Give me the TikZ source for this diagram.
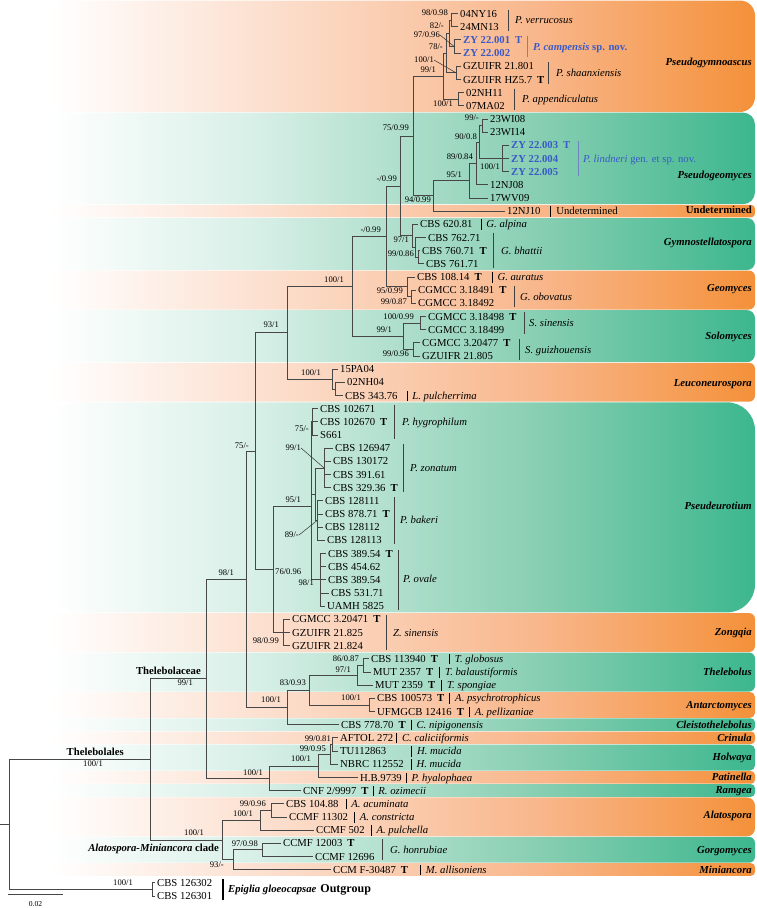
\documentclass[tikz,border=0pt]{standalone}
\usepackage{fontspec}
\setmainfont{Liberation Serif}

\definecolor{orgL}{RGB}{252,224,208}
\definecolor{orgM}{RGB}{248,182,138}
\definecolor{orgD}{RGB}{244,145,58}
\definecolor{grnL}{RGB}{214,239,230}
\definecolor{grnM}{RGB}{134,206,177}
\definecolor{grnD}{RGB}{60,183,142}
\definecolor{newblue}{RGB}{58,90,200}
\definecolor{barblue}{RGB}{112,132,190}

\pgfdeclarehorizontalshading{orgband}{100bp}{color(0bp)=(white); color(25bp)=(white); color(40bp)=(orgL); color(60bp)=(orgM); color(75bp)=(orgD); color(100bp)=(orgD)}
\pgfdeclarehorizontalshading{grnband}{100bp}{color(0bp)=(white); color(25bp)=(white); color(40bp)=(grnL); color(60bp)=(grnM); color(75bp)=(grnD); color(100bp)=(grnD)}

\newcommand{\Ty}{\hspace{5pt}\textbf{T}}
\newcommand{\spb}[1][7pt]{\hspace{#1}\rule[-2pt]{0.9pt}{10.5pt}\hspace{5pt}}

\begin{document}
\begin{tikzpicture}[x=1pt, y=-1pt,
    br/.style={draw=black!72, line width=0.8pt},
    lead/.style={draw=black!80, line width=0.5pt},
    tip/.style={anchor=west, inner xsep=2pt, inner ysep=0pt, text height=7.2pt, text depth=0pt, font=\fontsize{10.7}{12}\selectfont},
    newtip/.style={tip, text=newblue, font=\fontsize{10.7}{12}\selectfont\bfseries},
    bs/.style={anchor=east, inner sep=0pt, text height=5.9pt, text depth=0pt, font=\fontsize{8.6}{10}\selectfont},
    spbar/.style={draw=black!75, line width=0.9pt},
    spn/.style={anchor=west, inner sep=0pt, text height=7.2pt, text depth=0pt, font=\fontsize{10.7}{12}\selectfont\itshape},
    clade/.style={anchor=east, inner sep=0pt, text height=7.2pt, text depth=0pt, font=\fontsize{10.7}{12}\selectfont\bfseries\itshape},
    grp/.style={inner sep=0pt, text height=7.2pt, text depth=0pt, font=\fontsize{10.7}{12}\selectfont\bfseries}]

    \useasboundingbox (0,0) rectangle (756,908);

    % Genus bands
    \shade[shading=orgband, rounded corners=15pt] (50,0.5) rectangle (755,112.0);
    \shade[shading=grnband, rounded corners=12pt] (50,112.6) rectangle (755,204.2);
    \shade[shading=orgband, rounded corners=4pt] (50,204.8) rectangle (755,217.4);
    \shade[shading=grnband, rounded corners=8pt] (50,218.0) rectangle (755,270.0);
    \shade[shading=orgband, rounded corners=6pt] (50,270.6) rectangle (755,309.5);
    \shade[shading=grnband, rounded corners=8pt] (50,310.1) rectangle (755,362.2);
    \shade[shading=orgband, rounded corners=6pt] (50,362.8) rectangle (755,401.7);
    \shade[shading=grnband, rounded corners=28pt] (50,402.3) rectangle (755,612.4);
    \shade[shading=orgband, rounded corners=6pt] (50,613.0) rectangle (755,652.0);
    \shade[shading=grnband, rounded corners=6pt] (50,652.5) rectangle (755,691.5);
    \shade[shading=orgband, rounded corners=5pt] (50,692.0) rectangle (755,717.8);
    \shade[shading=grnband, rounded corners=4pt] (50,718.4) rectangle (755,731.0);
    \shade[shading=orgband, rounded corners=4pt] (50,731.5) rectangle (755,744.1);
    \shade[shading=grnband, rounded corners=5pt] (50,744.7) rectangle (755,770.5);
    \shade[shading=orgband, rounded corners=4pt] (50,771.1) rectangle (755,783.7);
    \shade[shading=grnband, rounded corners=4pt] (50,784.2) rectangle (755,796.8);
    \shade[shading=orgband, rounded corners=8pt] (50,797.4) rectangle (755,836.3);
    \shade[shading=grnband, rounded corners=6pt] (50,836.9) rectangle (755,862.7);
    \shade[shading=orgband, rounded corners=4pt] (50,863.2) rectangle (755,875.8);

    % Genus names
    \node[clade] (gPgym) at (752,62) {Pseudogymnoascus};
    \node[clade] (gPgeo) at (752,174.5) {Pseudogeomyces};
    \node[clade, font=\fontsize{10.7}{12}\selectfont\bfseries] (gUnd) at (752,209.5) {Undetermined};
    \node[clade] (gGym) at (752,242) {Gymnostellatospora};
    \node[clade] (gGeo) at (752,288) {Geomyces};
    \node[clade] (gSol) at (752,336) {Solomyces};
    \node[clade] (gLeu) at (752,382.5) {Leuconeurospora};
    \node[clade] (gPse) at (752,506) {Pseudeurotium};
    \node[clade] (gZon) at (752,632) {Zongqia};
    \node[clade] (gThe) at (752,671.5) {Thelebolus};
    \node[clade] (gAnt) at (752,704.5) {Antarctomyces};
    \node[clade] (gCle) at (752,724.5) {Cleistothelebolus};
    \node[clade] (gCri) at (752,737.5) {Crinula};
    \node[clade] (gHol) at (752,757) {Holwaya};
    \node[clade] (gPat) at (752,777) {Patinella};
    \node[clade] (gRam) at (752,790) {Ramgea};
    \node[clade] (gAla) at (752,815) {Alatospora};
    \node[clade] (gGor) at (752,850) {Gorgomyces};
    \node[clade] (gMin) at (752,869.5) {Miniancora};

    % Strains
    \node[tip] (t01) at (458,13.5) {04NY16};
    \node[tip] (t02) at (458,26.7) {24MN13};
    \node[newtip] (t03) at (461,39.8) {ZY 22.001\Ty};
    \node[newtip] (t04) at (461,53.0) {ZY 22.002};
    \node[tip] (t05) at (461,66.2) {GZUIFR 21.801};
    \node[tip] (t06) at (461,79.4) {GZUIFR HZ5.7\Ty};
    \node[tip] (t07) at (464,92.5) {02NH11};
    \node[tip] (t08) at (464,105.7) {07MA02};
    \node[tip] (t09) at (488,118.9) {23WI08};
    \node[tip] (t10) at (488,132.0) {23WI14};
    \node[newtip] (t11) at (509,145.2) {ZY 22.003\Ty};
    \node[newtip] (t12) at (509,158.4) {ZY 22.004};
    \node[newtip] (t13) at (509,171.5) {ZY 22.005};
    \node[tip] (t14) at (488,184.7) {12NJ08};
    \node[tip] (t15) at (488,197.9) {17WV09};
    \node[tip] (t16) at (505,211.1) {12NJ10\spb[10pt]Undetermined};
    \node[tip] (t17) at (418,224.2) {CBS 620.81\spb[8pt]\textit{G. alpina}};
    \node[tip] (t18) at (426,237.4) {CBS 762.71};
    \node[tip] (t19) at (420,250.6) {CBS 760.71\Ty};
    \node[tip] (t20) at (424,263.7) {CBS 761.71};
    \node[tip] (t21) at (415,276.9) {CBS 108.14\Ty\spb[10pt]\textit{G. auratus}};
    \node[tip] (t22) at (416,290.1) {CGMCC 3.18491\Ty};
    \node[tip] (t23) at (416,303.2) {CGMCC 3.18492};
    \node[tip] (t24) at (426,316.4) {CGMCC 3.18498\Ty};
    \node[tip] (t25) at (426,329.6) {CGMCC 3.18499};
    \node[tip] (t26) at (420,342.8) {CGMCC 3.20477\Ty};
    \node[tip] (t27) at (420,355.9) {GZUIFR 21.805};
    \node[tip] (t28) at (338,369.1) {15PA04};
    \node[tip] (t29) at (345,382.3) {02NH04};
    \node[tip] (t30) at (343,395.4) {CBS 343.76\spb[9pt]\textit{L. pulcherrima}};
    \node[tip] (t31) at (318,408.6) {CBS 102671};
    \node[tip] (t32) at (318,421.8) {CBS 102670\Ty};
    \node[tip] (t33) at (318,434.9) {S661};
    \node[tip] (t34) at (333,448.1) {CBS 126947};
    \node[tip] (t35) at (331,461.3) {CBS 130172};
    \node[tip] (t36) at (331,474.5) {CBS 391.61};
    \node[tip] (t37) at (331,487.6) {CBS 329.36\Ty};
    \node[tip] (t38) at (323,500.8) {CBS 128111};
    \node[tip] (t39) at (323,514.0) {CBS 878.71\Ty};
    \node[tip] (t40) at (323,527.1) {CBS 128112};
    \node[tip] (t41) at (325,540.3) {CBS 128113};
    \node[tip] (t42) at (326,553.5) {CBS 389.54\Ty};
    \node[tip] (t43) at (326,566.6) {CBS 454.62};
    \node[tip] (t44) at (326,579.8) {CBS 389.54};
    \node[tip] (t45) at (329,593.0) {CBS 531.71};
    \node[tip] (t46) at (325,606.1) {UAMH 5825};
    \node[tip] (t47) at (290,619.3) {CGMCC 3.20471\Ty};
    \node[tip] (t48) at (290,632.5) {GZUIFR 21.825};
    \node[tip] (t49) at (290,645.7) {GZUIFR 21.824};
    \node[tip] (t50) at (369,658.8) {CBS 113940\Ty\spb[11pt]\textit{T. globosus}};
    \node[tip] (t51) at (371,672.0) {MUT 2357\Ty\spb[6pt]\textit{T. balaustiformis}};
    \node[tip] (t52) at (373,685.2) {MUT 2359\Ty\spb[6pt]\textit{T. spongiae}};
    \node[tip] (t53) at (375,698.3) {CBS 100573\Ty\spb[5pt]\textit{A. psychrotrophicus}};
    \node[tip] (t54) at (375,711.5) {UFMGCB 12416\Ty\spb[5pt]\textit{A. pellizaniae}};
    \node[tip] (t55) at (339,724.7) {CBS 778.70\Ty\spb[5pt]\textit{C. nipigonensis}};
    \node[tip] (t56) at (338,737.8) {AFTOL 272\spb[3pt]\textit{C. caliciiformis}};
    \node[tip] (t57) at (338,751.0) {TU112863\spb[25pt]\textit{H. mucida}};
    \node[tip] (t58) at (338,764.2) {NBRC 112552\spb[7pt]\textit{H. mucida}};
    \node[tip] (t59) at (358,777.4) {H.B.9739\spb[4pt]\textit{P. hyalophaea}};
    \node[tip] (t60) at (301,790.5) {CNF 2/9997\Ty\spb[4pt]\textit{R. ozimecii}};
    \node[tip] (t61) at (284,803.7) {CBS 104.88\spb[7pt]\textit{A. acuminata}};
    \node[tip] (t62) at (287,816.9) {CCMF 11302\spb[6pt]\textit{A. constricta}};
    \node[tip] (t63) at (314,830.0) {CCMF 502\spb[6pt]\textit{A. pulchella}};
    \node[tip] (t64) at (281,843.2) {CCMF 12003\Ty};
    \node[tip] (t65) at (313,856.4) {CCMF 12696};
    \node[tip] (t66) at (331,869.5) {CCM F-30487\Ty\spb[12pt]\textit{M. allisoniens}};
    \node[tip] (t67) at (155,882.7) {CBS 126302};
    \node[tip] (t68) at (155,895.9) {CBS 126301};

    % Species bars
    \draw[spbar] (508,9.5) -- (508,30.7);
    \node[spn] (sp01) at (515,20.1) {P. verrucosus};
    \draw[spbar, draw=barblue] (527,36.0) -- (527,57.0);
    \node[spn, text=newblue, font=\fontsize{10.7}{12}\selectfont\bfseries] (sp02) at (533,46.4) {\textit{P. campensis} sp. nov.};
    \draw[spbar] (548,62.0) -- (548,83.5);
    \node[spn] (sp03) at (556,72.8) {P. shaanxiensis};
    \draw[spbar] (514,88.5) -- (514,109.7);
    \node[spn] (sp04) at (522,99.1) {P. appendiculatus};
    \draw[spbar, draw=barblue] (578,141.0) -- (578,175.5);
    \node[spn, text=newblue] (sp05) at (583,158.4) {P. lindneri \textup{gen. et sp. nov.}};
    \draw[spbar] (493,233.4) -- (493,267.7);
    \node[spn] (sp06) at (501,250.6) {G. bhattii};
    \draw[spbar] (514,286.1) -- (514,307.2);
    \node[spn] (sp07) at (520,296.7) {G. obovatus};
    \draw[spbar] (524,312.4) -- (524,333.6);
    \node[spn] (sp08) at (529,323.0) {S. sinensis};
    \draw[spbar] (519,338.8) -- (519,359.9);
    \node[spn] (sp09) at (525,349.4) {S. guizhouensis};
    \draw[spbar] (394,404.6) -- (394,438.9);
    \node[spn] (sp10) at (402,421.8) {P. hygrophilum};
    \draw[spbar] (403,444.1) -- (403,491.6);
    \node[spn] (sp11) at (410,467.9) {P. zonatum};
    \draw[spbar] (394,496.8) -- (394,544.3);
    \node[spn] (sp12) at (400,519.5) {P. bakeri};
    \draw[spbar] (398,549.5) -- (398,610.1);
    \node[spn] (sp13) at (403,579.0) {P. ovale};
    \draw[spbar] (386,615.3) -- (386,649.7);
    \node[spn] (sp14) at (393,632.5) {Z. sinensis};
    \draw[spbar] (382,839.2) -- (382,860.4);
    \node[spn] (sp15) at (390,849.8) {G. honrubiae};

    % Outgroup
    \draw[line width=2pt] (223,878.5) -- (223,900.0);
    \node[grp, anchor=west] (lOut) at (228,889.3) {\textit{Epiglia gloeocapsae}\hspace{4pt}{\fontsize{12}{14}\selectfont Outgroup}};

    % Internal nodes
    \coordinate (nVer) at (451,20.1);
    \coordinate (nCam) at (454,46.4);
    \coordinate (nB) at (449,33.0);
    \coordinate (nGz) at (456,72.8);
    \coordinate (nA) at (446,53.0);
    \coordinate (nApp) at (458,99.1);
    \coordinate (nPgym) at (443,76.0);
    \coordinate (nWi) at (482,125.5);
    \coordinate (nLin) at (502,158.4);
    \coordinate (n90) at (479,142.0);
    \coordinate (n89) at (476,163.4);
    \coordinate (n95) at (469,180.6);
    \coordinate (n94) at (433,195.8);
    \coordinate (n75) at (413,135.9);
    \coordinate (nBh2) at (418,257.2);
    \coordinate (nBh) at (415,247.3);
    \coordinate (nGym) at (412,235.8);
    \coordinate (nU) at (400,185.9);
    \coordinate (nObo) at (411,296.7);
    \coordinate (nGeo) at (407,286.8);
    \coordinate (nL) at (386,236.3);
    \coordinate (nSs) at (420,323.0);
    \coordinate (nSg) at (413,349.4);
    \coordinate (nSol) at (403,336.2);
    \coordinate (n100a) at (352,286.3);
    \coordinate (nLeu2) at (335,388.9);
    \coordinate (nLeu) at (332,379.0);
    \coordinate (n93) at (287,332.6);
    \coordinate (nHyg) at (312,421.8);
    \coordinate (nZon) at (324,467.9);
    \coordinate (nBak) at (317,520.6);
    \coordinate (nZB) at (315,494.2);
    \coordinate (nOva) at (320,579.8);
    \coordinate (nPse) at (311,506.0);
    \coordinate (nZong) at (283,632.5);
    \coordinate (n76) at (273,569.2);
    \coordinate (n75b) at (255,450.9);
    \coordinate (nTg) at (363,665.4);
    \coordinate (nThe) at (357,675.3);
    \coordinate (nAnt) at (369,704.9);
    \coordinate (n83) at (309,690.1);
    \coordinate (n100c) at (287,707.4);
    \coordinate (n98) at (246,579.2);
    \coordinate (nCr) at (332,744.4);
    \coordinate (nCH) at (330,754.3);
    \coordinate (nPat) at (318,765.9);
    \coordinate (nRam) at (269,778.2);
    \coordinate (nThc) at (206,678.7);
    \coordinate (nAc) at (271,810.3);
    \coordinate (nAla) at (260,820.2);
    \coordinate (nGor) at (262,849.8);
    \coordinate (nGM) at (233,859.7);
    \coordinate (nAM) at (222,840.0);
    \coordinate (nThs) at (150,759.4);
    \coordinate (nOut) at (152,889.3);
    \coordinate (nRoot) at (9,824.4);
    \coordinate (rStub) at (0,824.4);

    % Branches: Pseudogymnoascus, Pseudogeomyces
    \draw[br] (nVer) |- (t01.west) (nVer) |- (t02.west);
    \draw[br] (nCam) |- (t03.west) (nCam) |- (t04.west);
    \draw[br] (nB) |- (nVer) (nB) |- (nCam);
    \draw[br] (nGz) |- (t05.west) (nGz) |- (t06.west);
    \draw[br] (nA) |- (nB) (nA) |- (nGz);
    \draw[br] (nApp) |- (t07.west) (nApp) |- (t08.west);
    \draw[br] (nPgym) |- (nA) (nPgym) |- (nApp);
    \draw[br] (nWi) |- (t09.west) (nWi) |- (t10.west);
    \draw[br] (nLin) |- (t11.west) (nLin) |- (t12.west) (nLin) |- (t13.west);
    \draw[br] (n90) |- (nWi) (n90) |- (nLin);
    \draw[br] (n89) |- (n90) (n89) |- (t14.west);
    \draw[br] (n95) |- (n89) (n95) |- (t15.west);
    \draw[br] (n94) |- (n95) (n94) |- (t16.west);
    \draw[br] (n75) |- (nPgym) (n75) |- (n94);

    % Branches: Gymnostellatospora to Leuconeurospora
    \draw[br] (nBh2) |- (t19.west) (nBh2) |- (t20.west);
    \draw[br] (nBh) |- (t18.west) (nBh) |- (nBh2);
    \draw[br] (nGym) |- (t17.west) (nGym) |- (nBh);
    \draw[br] (nU) |- (n75) (nU) |- (nGym);
    \draw[br] (nObo) |- (t22.west) (nObo) |- (t23.west);
    \draw[br] (nGeo) |- (t21.west) (nGeo) |- (nObo);
    \draw[br] (nL) |- (nU) (nL) |- (nGeo);
    \draw[br] (nSs) |- (t24.west) (nSs) |- (t25.west);
    \draw[br] (nSg) |- (t26.west) (nSg) |- (t27.west);
    \draw[br] (nSol) |- (nSs) (nSol) |- (nSg);
    \draw[br] (n100a) |- (nL) (n100a) |- (nSol);
    \draw[br] (nLeu2) |- (t29.west) (nLeu2) |- (t30.west);
    \draw[br] (nLeu) |- (t28.west) (nLeu) |- (nLeu2);
    \draw[br] (n93) |- (n100a) (n93) |- (nLeu);

    % Branches: Pseudeurotium, Zongqia
    \draw[br] (nHyg) |- (t31.west) (nHyg) |- (t32.west) (nHyg) |- (t33.west);
    \draw[br] (nZon) |- (t34.west) (nZon) |- (t35.west) (nZon) |- (t36.west) (nZon) |- (t37.west);
    \draw[br] (nBak) |- (t38.west) (nBak) |- (t39.west) (nBak) |- (t40.west) (nBak) |- (t41.west);
    \draw[br] (nOva) |- (t42.west) (nOva) |- (t43.west) (nOva) |- (t44.west) (nOva) |- (t45.west) (nOva) |- (t46.west);
    \draw[br] (nZB) |- (nZon) (nZB) |- (nBak);
    \draw[br] (nPse) |- (nHyg) (nPse) |- (nZB) (nPse) |- (nOva);
    \draw[br] (nZong) |- (t47.west) (nZong) |- (t48.west) (nZong) |- (t49.west);
    \draw[br] (n76) |- (nPse) (n76) |- (nZong);
    \draw[br] (n75b) |- (n93) (n75b) |- (n76);

    % Branches: Thelebolus to Ramgea
    \draw[br] (nTg) |- (t50.west) (nTg) |- (t51.west);
    \draw[br] (nThe) |- (nTg) (nThe) |- (t52.west);
    \draw[br] (nAnt) |- (t53.west) (nAnt) |- (t54.west);
    \draw[br] (n83) |- (nThe) (n83) |- (nAnt);
    \draw[br] (n100c) |- (n83) (n100c) |- (t55.west);
    \draw[br] (n98) |- (n75b) (n98) |- (n100c);
    \draw[br] (nCr) |- (t56.west) (nCr) |- (t57.west);
    \draw[br] (nCH) |- (nCr) (nCH) |- (t58.west);
    \draw[br] (nPat) |- (nCH) (nPat) |- (t59.west);
    \draw[br] (nRam) |- (nPat) (nRam) |- (t60.west);
    \draw[br] (nThc) |- (n98) (nThc) |- (nRam);

    % Branches: Alatospora-Miniancora clade, root
    \draw[br] (nAc) |- (t61.west) (nAc) |- (t62.west);
    \draw[br] (nAla) |- (nAc) (nAla) |- (t63.west);
    \draw[br] (nGor) |- (t64.west) (nGor) |- (t65.west);
    \draw[br] (nGM) |- (nGor) (nGM) |- (t66.west);
    \draw[br] (nAM) |- (nAla) (nAM) |- (nGM);
    \draw[br] (nThs) |- (nThc) (nThs) |- (nAM);
    \draw[br] (nOut) |- (t67.west) (nOut) |- (t68.west);
    \draw[br] (nRoot) |- (nThs) (nRoot) |- (nOut);
    \draw[br] (rStub) -- (nRoot);

    % Support values
    \node[bs] (b01) at (448,13) {98/0.98};
    \node[bs] (b02) at (444,26) {82/-};
    \node[bs] (b03) at (440,35) {97/0.96};
    \node[bs] (b04) at (443,47) {78/-};
    \node[bs] (b05) at (434,60) {100/1};
    \node[bs] (b06) at (436,69.5) {99/1};
    \node[bs] (b07) at (453,104) {100/1};
    \node[bs] (b08) at (409,128) {75/0.99};
    \node[bs] (b09) at (479,118) {99/-};
    \node[bs] (b10) at (477,137) {90/0.8};
    \node[bs] (b11) at (473,157) {89/0.84};
    \node[bs] (b12) at (500,167) {100/1};
    \node[bs] (b13) at (462,175) {95/1};
    \node[bs] (b14) at (431,200) {94/0.99};
    \node[bs] (b15) at (397,179) {-/0.99};
    \node[bs] (b16) at (409,240) {97/1};
    \node[bs] (b17) at (414,254) {99/0.86};
    \node[bs] (b18) at (381,230) {-/0.99};
    \node[bs] (b19) at (403,291) {95/0.99};
    \node[bs] (b20) at (407,302) {99/0.87};
    \node[bs] (b21) at (414,317) {100/0.99};
    \node[bs] (b22) at (392,330) {99/1};
    \node[bs] (b23) at (409,354) {99/0.96};
    \node[bs] (b24) at (344,280) {100/1};
    \node[bs] (b25) at (321,373) {100/1};
    \node[bs] (b26) at (279,325) {93/1};
    \node[bs] (b27) at (309,429) {75/-};
    \node[bs] (b28) at (301,448) {99/1};
    \node[bs] (b29) at (301,500) {95/1};
    \node[bs] (b30) at (299,535) {89/-};
    \node[bs] (b31) at (314,583) {98/1};
    \node[bs, anchor=west] (b32) at (275,572) {76/0.96};
    \node[bs] (b33) at (279,641) {98/0.99};
    \node[bs] (b34) at (249,446) {75/-};
    \node[bs] (b35) at (359,659) {86/0.87};
    \node[bs] (b36) at (351,670) {97/1};
    \node[bs] (b37) at (306,683) {83/0.93};
    \node[bs] (b38) at (361,698) {100/1};
    \node[bs] (b39) at (281,700) {100/1};
    \node[bs] (b40) at (234,573) {98/1};
    \node[bs] (b41) at (331,739) {99/0.81};
    \node[bs] (b42) at (326,749) {99/0.95};
    \node[bs] (b43) at (311,759) {100/1};
    \node[bs] (b44) at (263,773) {100/1};
    \node[bs] (b45) at (193,683) {99/1};
    \node[bs] (b46) at (266,804) {99/0.96};
    \node[bs] (b47) at (253,814) {100/1};
    \node[bs] (b48) at (258,844) {97/0.98};
    \node[bs] (b49) at (224,865) {93/-};
    \node[bs] (b50) at (204,833) {100/1};
    \node[bs] (b51) at (103,764) {100/1};
    \node[bs] (b52) at (133,883) {100/1};

    % Leader lines
    \draw[lead] (b03.east) -- (nCam);
    \draw[lead] (b05.east) -- (nGz);
    \draw[lead] (b28.east) -- (nZon);
    \draw[lead] (b30.east) -- (nBak);

    % Higher rank names
    \node[grp, anchor=east] (lThc) at (201,671) {Thelebolaceae};
    \node[grp, anchor=east] (lThs) at (124,752) {Thelebolales};
    \node[grp, anchor=east] (lAM) at (219,848) {\textit{Alatospora-Miniancora} clade};

    % Scale bar
    \draw[br] (8,894) -- (63,894);
    \node[bs, anchor=center, font=\fontsize{7.6}{9}\selectfont] (sc) at (35.5,903.5) {0.02};

\end{tikzpicture}
\end{document}
